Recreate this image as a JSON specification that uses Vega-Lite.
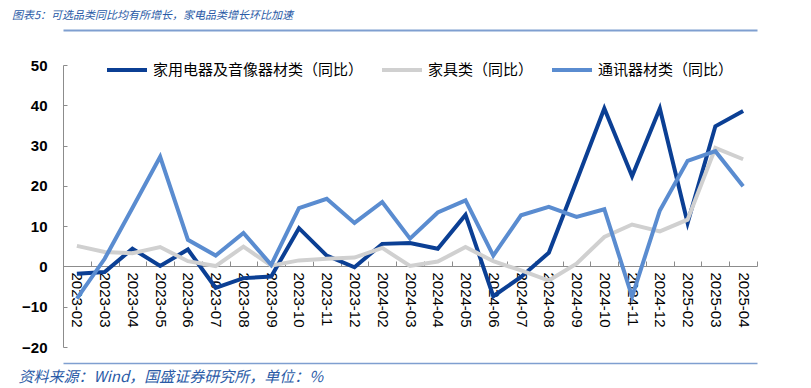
{
  "$schema": "https://vega.github.io/schema/vega-lite/v6.json",
  "autosize": {"type": "none"},
  "width": 694,
  "height": 282,
  "padding": {"left": 63, "top": 65, "right": 54, "bottom": 41},
  "background": "white",
  "title": {
    "text": "图表5：可选品类同比均有所增长，家电品类增长环比加速",
    "anchor": "start",
    "frame": "group",
    "dx": -51,
    "offset": 9,
    "font": "Noto Sans CJK SC",
    "fontSize": 11,
    "fontStyle": "italic",
    "fontWeight": "normal",
    "color": "#2a5aa6"
  },
  "config": {
    "view": {"stroke": null},
    "font": "Liberation Sans"
  },
  "datasets": {
    "d": [
      {"month": "2023-02", "series": "家用电器及音像器材类（同比）", "value": -1.8},
      {"month": "2023-03", "series": "家用电器及音像器材类（同比）", "value": -1.4},
      {"month": "2023-04", "series": "家用电器及音像器材类（同比）", "value": 4.4},
      {"month": "2023-05", "series": "家用电器及音像器材类（同比）", "value": 0.1},
      {"month": "2023-06", "series": "家用电器及音像器材类（同比）", "value": 4.2},
      {"month": "2023-07", "series": "家用电器及音像器材类（同比）", "value": -5.3},
      {"month": "2023-08", "series": "家用电器及音像器材类（同比）", "value": -2.9},
      {"month": "2023-09", "series": "家用电器及音像器材类（同比）", "value": -2.5},
      {"month": "2023-10", "series": "家用电器及音像器材类（同比）", "value": 9.5},
      {"month": "2023-11", "series": "家用电器及音像器材类（同比）", "value": 2.7},
      {"month": "2023-12", "series": "家用电器及音像器材类（同比）", "value": -0.2},
      {"month": "2024-02", "series": "家用电器及音像器材类（同比）", "value": 5.6},
      {"month": "2024-03", "series": "家用电器及音像器材类（同比）", "value": 5.8},
      {"month": "2024-04", "series": "家用电器及音像器材类（同比）", "value": 4.4},
      {"month": "2024-05", "series": "家用电器及音像器材类（同比）", "value": 12.8},
      {"month": "2024-06", "series": "家用电器及音像器材类（同比）", "value": -7.4},
      {"month": "2024-07", "series": "家用电器及音像器材类（同比）", "value": -2.6},
      {"month": "2024-08", "series": "家用电器及音像器材类（同比）", "value": 3.4},
      {"month": "2024-09", "series": "家用电器及音像器材类（同比）", "value": 21.2},
      {"month": "2024-10", "series": "家用电器及音像器材类（同比）", "value": 39.2},
      {"month": "2024-11", "series": "家用电器及音像器材类（同比）", "value": 22.4},
      {"month": "2024-12", "series": "家用电器及音像器材类（同比）", "value": 39.2},
      {"month": "2025-02", "series": "家用电器及音像器材类（同比）", "value": 10.8},
      {"month": "2025-03", "series": "家用电器及音像器材类（同比）", "value": 34.8},
      {"month": "2025-04", "series": "家用电器及音像器材类（同比）", "value": 38.6},
      {"month": "2023-02", "series": "家具类（同比）", "value": 5.1},
      {"month": "2023-03", "series": "家具类（同比）", "value": 3.6},
      {"month": "2023-04", "series": "家具类（同比）", "value": 3.3},
      {"month": "2023-05", "series": "家具类（同比）", "value": 4.8},
      {"month": "2023-06", "series": "家具类（同比）", "value": 1.3},
      {"month": "2023-07", "series": "家具类（同比）", "value": 0.1},
      {"month": "2023-08", "series": "家具类（同比）", "value": 4.9},
      {"month": "2023-09", "series": "家具类（同比）", "value": 0.2},
      {"month": "2023-10", "series": "家具类（同比）", "value": 1.5},
      {"month": "2023-11", "series": "家具类（同比）", "value": 1.9},
      {"month": "2023-12", "series": "家具类（同比）", "value": 2.2},
      {"month": "2024-02", "series": "家具类（同比）", "value": 4.6},
      {"month": "2024-03", "series": "家具类（同比）", "value": 0.1},
      {"month": "2024-04", "series": "家具类（同比）", "value": 1.2},
      {"month": "2024-05", "series": "家具类（同比）", "value": 4.8},
      {"month": "2024-06", "series": "家具类（同比）", "value": 1.3},
      {"month": "2024-07", "series": "家具类（同比）", "value": -1.0},
      {"month": "2024-08", "series": "家具类（同比）", "value": -3.5},
      {"month": "2024-09", "series": "家具类（同比）", "value": 0.7},
      {"month": "2024-10", "series": "家具类（同比）", "value": 7.3},
      {"month": "2024-11", "series": "家具类（同比）", "value": 10.4},
      {"month": "2024-12", "series": "家具类（同比）", "value": 8.7},
      {"month": "2025-02", "series": "家具类（同比）", "value": 11.6},
      {"month": "2025-03", "series": "家具类（同比）", "value": 29.4},
      {"month": "2025-04", "series": "家具类（同比）", "value": 26.6},
      {"month": "2023-02", "series": "通讯器材类（同比）", "value": -8.0},
      {"month": "2023-03", "series": "通讯器材类（同比）", "value": 1.9},
      {"month": "2023-04", "series": "通讯器材类（同比）", "value": 14.5},
      {"month": "2023-05", "series": "通讯器材类（同比）", "value": 27.2},
      {"month": "2023-06", "series": "通讯器材类（同比）", "value": 6.6},
      {"month": "2023-07", "series": "通讯器材类（同比）", "value": 2.7},
      {"month": "2023-08", "series": "通讯器材类（同比）", "value": 8.3},
      {"month": "2023-09", "series": "通讯器材类（同比）", "value": 0.4},
      {"month": "2023-10", "series": "通讯器材类（同比）", "value": 14.5},
      {"month": "2023-11", "series": "通讯器材类（同比）", "value": 16.8},
      {"month": "2023-12", "series": "通讯器材类（同比）", "value": 10.8},
      {"month": "2024-02", "series": "通讯器材类（同比）", "value": 16.0},
      {"month": "2024-03", "series": "通讯器材类（同比）", "value": 6.9},
      {"month": "2024-04", "series": "通讯器材类（同比）", "value": 13.4},
      {"month": "2024-05", "series": "通讯器材类（同比）", "value": 16.4},
      {"month": "2024-06", "series": "通讯器材类（同比）", "value": 2.7},
      {"month": "2024-07", "series": "通讯器材类（同比）", "value": 12.7},
      {"month": "2024-08", "series": "通讯器材类（同比）", "value": 14.8},
      {"month": "2024-09", "series": "通讯器材类（同比）", "value": 12.3},
      {"month": "2024-10", "series": "通讯器材类（同比）", "value": 14.2},
      {"month": "2024-11", "series": "通讯器材类（同比）", "value": -7.5},
      {"month": "2024-12", "series": "通讯器材类（同比）", "value": 13.9},
      {"month": "2025-02", "series": "通讯器材类（同比）", "value": 26.2},
      {"month": "2025-03", "series": "通讯器材类（同比）", "value": 28.6},
      {"month": "2025-04", "series": "通讯器材类（同比）", "value": 19.9}
    ]
  },
  "data": {"name": "d"},
  "resolve": {"axis": {"x": "independent"}},
  "layer": [
    {
      "mark": {"type": "line", "strokeWidth": 4, "strokeOpacity": 0},
      "encoding": {
        "x": {
          "field": "month", "type": "ordinal", "bandPosition": 0.5,
          "scale": {"type": "band", "paddingInner": 0, "paddingOuter": 0},
          "axis": {
            "orient": "top", "offset": 35, "labels": false, "ticks": false,
            "domainColor": "#7f9fd0", "domainWidth": 2, "title": null, "grid": false
          }
        },
        "y": {"field": "value", "type": "quantitative"},
        "detail": {"field": "series"}
      }
    },
    {
      "mark": {"type": "line", "strokeWidth": 4, "strokeOpacity": 0},
      "encoding": {
        "x": {
          "field": "month", "type": "ordinal", "bandPosition": 0.5,
          "axis": {
            "orient": "bottom", "offset": 16, "labels": false, "ticks": false,
            "domainColor": "#7f9fd0", "domainWidth": 1.5, "grid": false,
            "title": "资料来源：Wind，国盛证券研究所，单位：%",
            "titleX": -45, "titleY": 13, "titleAlign": "left", "titleAnchor": null,
            "titleBaseline": "middle", "titleAngle": 0,
            "titleFont": "Noto Sans CJK SC", "titleFontSize": 15, "titleFontStyle": "italic",
            "titleFontWeight": "normal", "titleColor": "#2a5aa6"
          }
        },
        "y": {"field": "value", "type": "quantitative"},
        "detail": {"field": "series"}
      }
    },
    {
      "mark": {"type": "line", "strokeWidth": 4},
      "encoding": {
        "x": {
          "field": "month", "type": "ordinal", "bandPosition": 0.5,
          "axis": {
            "orient": "bottom", "offset": -81, "title": null,
            "labelAngle": 90, "labelFont": "Liberation Sans", "labelFontSize": 15,
            "labelColor": "#000000", "labelPadding": 11,
            "tickBand": "extent", "tickSize": -5, "tickColor": "#8c8c8c",
            "domainColor": "#8c8c8c", "domainWidth": 1, "grid": false
          }
        },
        "y": {
          "field": "value", "type": "quantitative",
          "scale": {"domain": [-20, 50], "nice": false, "zero": false},
          "axis": {
            "values": [-20, -10, 0, 10, 20, 30, 40, 50], "title": null, "grid": false,
            "labelFont": "Liberation Sans", "labelFontSize": 15, "labelFontWeight": "bold",
            "labelColor": "#000000", "labelPadding": 20, "tickSize": -4,
            "tickColor": "#8c8c8c", "domainColor": "#8c8c8c"
          }
        },
        "color": {
          "field": "series", "type": "nominal",
          "scale": {
            "domain": ["家用电器及音像器材类（同比）", "家具类（同比）", "通讯器材类（同比）"],
            "range": ["#0b3f94", "#d0d0d0", "#5a8cd0"]
          },
          "legend": {
            "title": null, "orient": "none", "direction": "horizontal",
            "legendX": 42, "legendY": -17,
            "symbolType": "stroke", "symbolSize": 1600, "symbolStrokeWidth": 4,
            "labelFont": "Noto Sans CJK SC", "labelFontSize": 15, "labelColor": "#000000",
            "columnPadding": 10, "labelLimit": 400
          }
        },
        "order": {"field": "series"}
      }
    }
  ]
}
